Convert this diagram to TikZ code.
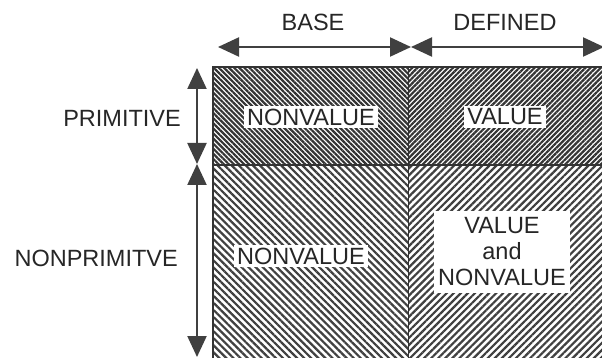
\documentclass[tikz,border=0pt]{standalone}
\usepackage{fontspec}
\setmainfont{Liberation Sans}
\usetikzlibrary{patterns.meta}
\usetikzlibrary{arrows.meta}

\begin{document}
\begin{tikzpicture}[x=1pt,y=-1pt,every node/.style={font=\fontsize{23.5}{26}\selectfont,text=black!85,inner sep=2pt},
						box/.style={fill=white,inner sep=3pt,align=center},
						dim/.style={line width=2.2pt,draw=black!75,{Triangle[length=21pt,width=19pt]}-{Triangle[length=21pt,width=19pt]}},
						darkl/.style={pattern={Lines[angle=-45,distance=3.6pt,line width=2.2pt]},pattern color=black!80},
						darkr/.style={pattern={Lines[angle=45,distance=3.6pt,line width=2.2pt]},pattern color=black!80},
						lightl/.style={pattern={Lines[angle=-45,distance=5pt,line width=2.2pt]},pattern color=black!75},
						lightr/.style={pattern={Lines[angle=45,distance=5pt,line width=2.2pt]},pattern color=black!75}
						]
						\useasboundingbox (0,0) rectangle (602,358);
						% quadrants
						\fill[darkl] (213,67) rectangle (408,165);
						\fill[darkr] (408,67) rectangle (602,165);
						\fill[lightl] (213,165) rectangle (408,358);
						\fill[lightr] (408,165) rectangle (602,358);
						\draw[line width=1.5pt,black!80] (213,358) -- (213,67) -- (602,67);
						\draw[line width=1.2pt,black!80] (213,165) -- (602,165);
						\draw[line width=0.8pt,black!80] (408,67) -- (408,358);
						% coordinates for the dimension arrows
						\coordinate (hl) at (218,47);
						\coordinate (hm) at (411,47);
						\coordinate (hr) at (604,47);
						\coordinate (vt) at (197,68);
						\coordinate (vm) at (197,164);
						\coordinate (vb) at (197,357);
						\draw[dim] (hl) -- (hm);
						\draw[dim] (hm) -- (hr);
						\draw[dim] (vt) -- (vm);
						\draw[dim] (vm) -- (vb);
						\node (base) at (313,22) {BASE};
						\node (defined) at (505,22) {DEFINED};
						\node[anchor=east] (prim) at (183,118) {PRIMITIVE};
						\node[anchor=east] (nonprim) at (180,258) {NONPRIMITVE};
						% cell labels
						\node[box] (bp) at (311,117) {NONVALUE};
						\node[box] (dp) at (505,117) {VALUE};
						\node[box] (bn) at (301,256) {NONVALUE};
						\node[box,inner xsep=4pt,inner ysep=7pt] (dn) at (502,252) {VALUE\\and\\NONVALUE};
						\end{tikzpicture}
\end{document}
